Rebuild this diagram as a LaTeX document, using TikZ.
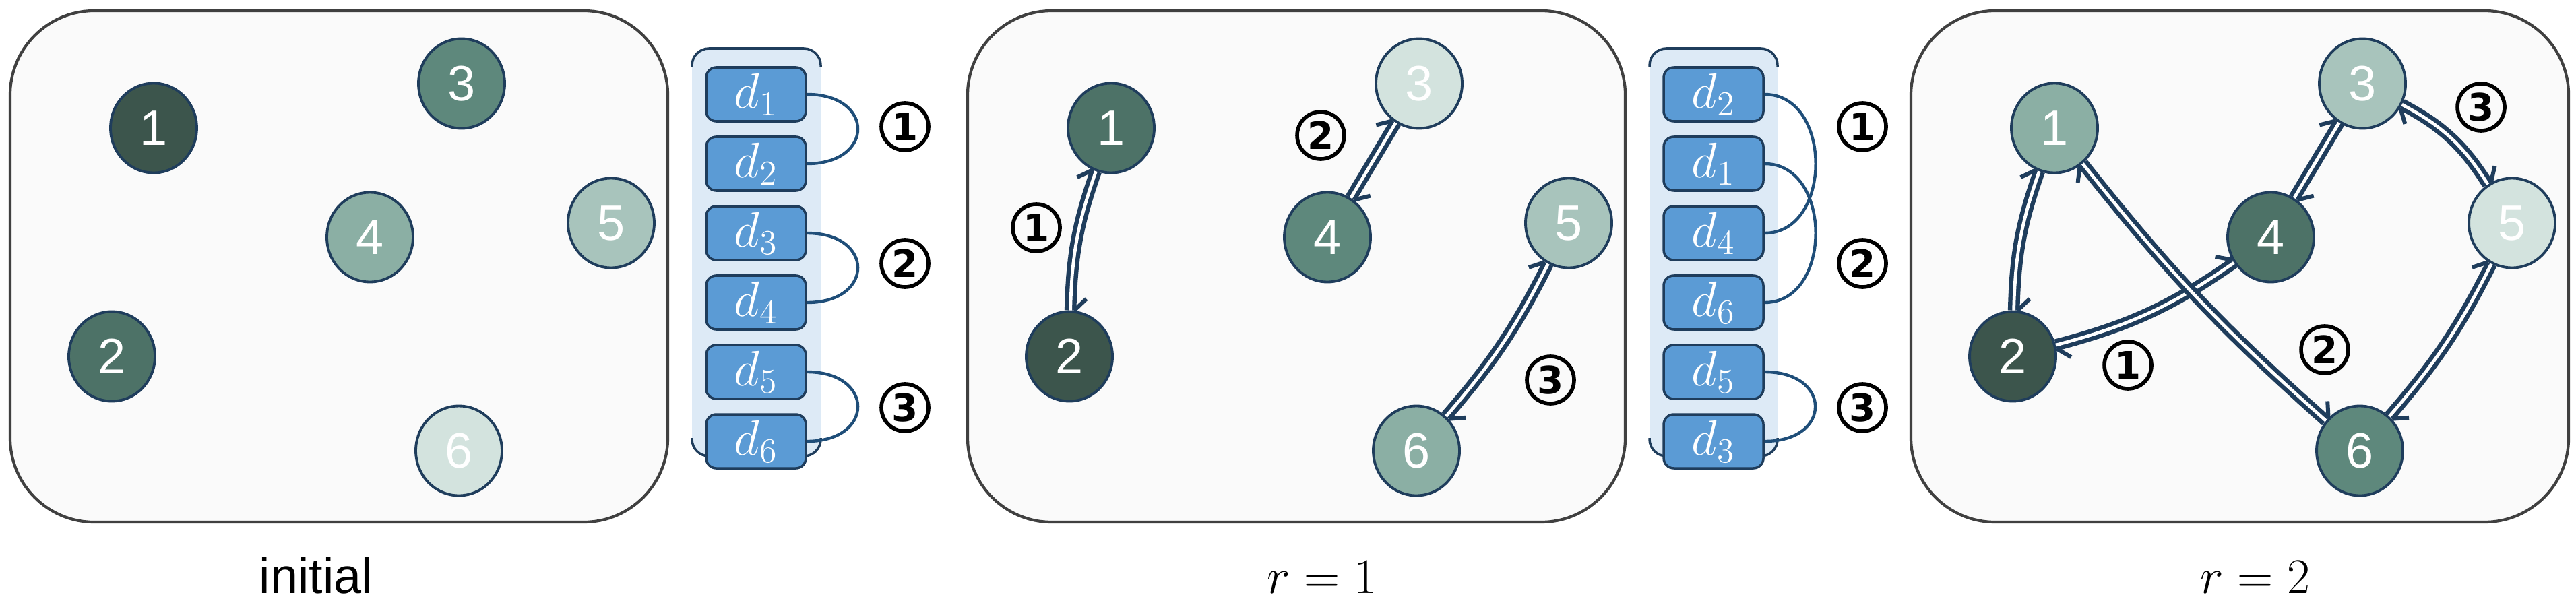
\RequirePackage{fix-cm}
\documentclass[tikz,border=0pt]{standalone}
\usepackage{fontspec}
\setmainfont{Liberation Sans}
\newfontfamily\circfont{DejaVu Sans}
\usetikzlibrary{shapes.geometric,decorations.markings}

\definecolor{panelgray}{HTML}{FAFAFA}
\definecolor{panelline}{HTML}{404040}
\definecolor{navy}{HTML}{1F3D5C}
\definecolor{arcblue}{HTML}{1F4E79}
\definecolor{cardblue}{HTML}{5B9BD5}
\definecolor{deckblue}{HTML}{DDEAF6}
\definecolor{gA}{HTML}{3C554C}
\definecolor{gB}{HTML}{4D7267}
\definecolor{gC}{HTML}{5E887C}
\definecolor{gD}{HTML}{8BAFA4}
\definecolor{gE}{HTML}{A8C4BC}
\definecolor{gF}{HTML}{D3E3DE}

\tikzset{
  panel/.style={draw=panelline, line width=1.2pt, fill=panelgray, rounded corners=1.25cm},
  agent/.style={ellipse, draw=navy, line width=1.1pt, fill=#1, text=white, minimum width=1.28cm,
    minimum height=1.33cm, inner sep=0pt, font=\fontsize{21}{24}\selectfont},
  card/.style={draw=navy, line width=1pt, fill=cardblue, rounded corners=0.15cm, minimum width=1.48cm,
    minimum height=0.80cm, inner sep=0pt, text=white, font=\fontsize{21}{24}\selectfont},
  pairarc/.style={draw=arcblue, line width=1.25pt},
  roundlabel/.style={circle, draw=black, line width=1.6pt, minimum size=0.70cm, inner sep=0pt,
    font=\circfont\bfseries\fontsize{16}{18}\selectfont},
  barb/.style={draw=navy, line width=1.7pt},
  link/.style={draw=white, line width=1.35pt, preaction={draw=navy, line width=5pt},
    postaction={decorate, decoration={markings,
      mark=at position 0 with {\draw[barb] (0,-1.6pt) -- (5pt,-6.6pt);},
      mark=at position 1 with {\draw[barb] (0,1.6pt) -- (-5pt,6.6pt);}}}},
  caption/.style={font=\fontsize{21}{24}\selectfont}
}

\begin{document}
\begin{tikzpicture}
\useasboundingbox (0,0) rectangle (38.23,8.94);

% three rounds
\draw[panel] (0.15,1.19) rectangle (9.91,8.78);
\draw[panel] (14.36,1.19) rectangle (24.12,8.78);
\draw[panel] (28.36,1.19) rectangle (38.12,8.78);

% initial
\node[agent=gA] (a1) at (2.28,7.04) {1};
\node[agent=gB] (a2) at (1.66,3.65) {2};
\node[agent=gC] (a3) at (6.85,7.70) {3};
\node[agent=gD] (a4) at (5.49,5.42) {4};
\node[agent=gE] (a5) at (9.07,5.63) {5};
\node[agent=gF] (a6) at (6.81,2.25) {6};
\node[caption] (capa) at (4.69,0.40) {initial};

% r = 1
\node[agent=gB] (b1) at (16.49,7.04) {1};
\node[agent=gA] (b2) at (15.87,3.65) {2};
\node[agent=gF] (b3) at (21.06,7.70) {3};
\node[agent=gC] (b4) at (19.70,5.42) {4};
\node[agent=gE] (b5) at (23.28,5.63) {5};
\node[agent=gD] (b6) at (21.02,2.25) {6};
\draw[link] (b2) to[bend left=9] (b1);
\draw[link] (b4) -- (b3);
\draw[link] (b6) to[bend right=7] (b5);
\node[roundlabel] (lb1) at (15.38,5.56) {1};
\node[roundlabel] (lb2) at (19.60,6.93) {2};
\node[roundlabel] (lb3) at (23.01,3.30) {3};
\node[caption] (capb) at (19.62,0.37) {$r=1$};

% r = 2
\node[agent=gD] (c1) at (30.49,7.04) {1};
\node[agent=gA] (c2) at (29.87,3.65) {2};
\node[agent=gE] (c3) at (35.06,7.70) {3};
\node[agent=gB] (c4) at (33.70,5.42) {4};
\node[agent=gF] (c5) at (37.28,5.63) {5};
\node[agent=gC] (c6) at (35.02,2.25) {6};
\draw[link] (c2) to[bend left=9] (c1);
\draw[link] (c2) to[bend right=10] (c4);
\draw[link] (c1) to[bend right=5] (c6);
\draw[link] (c4) -- (c3);
\draw[link] (c3) to[bend left=15] (c5);
\draw[link] (c6) to[bend right=7] (c5);
\node[roundlabel] (lc1) at (31.58,3.52) {1};
\node[roundlabel] (lc2) at (34.50,3.75) {2};
\node[roundlabel] (lc3) at (36.82,7.35) {3};
\node[caption] (capc) at (33.47,0.37) {$r=2$};

% first pairing
\fill[deckblue, rounded corners=0.25cm] (10.27,2.17) rectangle (12.18,8.22);
\draw[navy, line width=1pt, rounded corners=0.25cm] (10.27,7.95) -- (10.27,8.22) -- (12.18,8.22) -- (12.18,7.95);
\draw[navy, line width=1pt, rounded corners=0.25cm] (10.27,2.44) -- (10.27,2.17) -- (12.18,2.17) -- (12.18,2.44);
\node[card] (da1) at (11.22,7.54) {$d_1$};
\node[card] (da2) at (11.22,6.51) {$d_2$};
\node[card] (da3) at (11.22,5.48) {$d_3$};
\node[card] (da4) at (11.22,4.45) {$d_4$};
\node[card] (da5) at (11.22,3.42) {$d_5$};
\node[card] (da6) at (11.22,2.39) {$d_6$};
\draw[pairarc] (da1.east) to[out=0, in=0, looseness=2.5] (da2.east);
\draw[pairarc] (da3.east) to[out=0, in=0, looseness=2.5] (da4.east);
\draw[pairarc] (da5.east) to[out=0, in=0, looseness=2.5] (da6.east);
\node[roundlabel] (ka1) at (13.43,7.06) {1};
\node[roundlabel] (ka2) at (13.43,5.03) {2};
\node[roundlabel] (ka3) at (13.43,2.89) {3};

% second pairing
\fill[deckblue, rounded corners=0.25cm] (24.48,2.17) rectangle (26.38,8.22);
\draw[navy, line width=1pt, rounded corners=0.25cm] (24.48,7.95) -- (24.48,8.22) -- (26.38,8.22) -- (26.38,7.95);
\draw[navy, line width=1pt, rounded corners=0.25cm] (24.48,2.44) -- (24.48,2.17) -- (26.38,2.17) -- (26.38,2.44);
\node[card] (db2) at (25.43,7.54) {$d_2$};
\node[card] (db1) at (25.43,6.51) {$d_1$};
\node[card] (db4) at (25.43,5.48) {$d_4$};
\node[card] (db6) at (25.43,4.45) {$d_6$};
\node[card] (db5) at (25.43,3.42) {$d_5$};
\node[card] (db3) at (25.43,2.39) {$d_3$};
\draw[pairarc] (db2.east) to[out=0, in=0, looseness=1.26] (db4.east);
\draw[pairarc] (db1.east) to[out=0, in=0, looseness=1.26] (db6.east);
\draw[pairarc] (db5.east) to[out=0, in=0, looseness=2.5] (db3.east);
\node[roundlabel] (kb1) at (27.64,7.06) {1};
\node[roundlabel] (kb2) at (27.64,5.03) {2};
\node[roundlabel] (kb3) at (27.64,2.89) {3};

\end{tikzpicture}
\end{document}
